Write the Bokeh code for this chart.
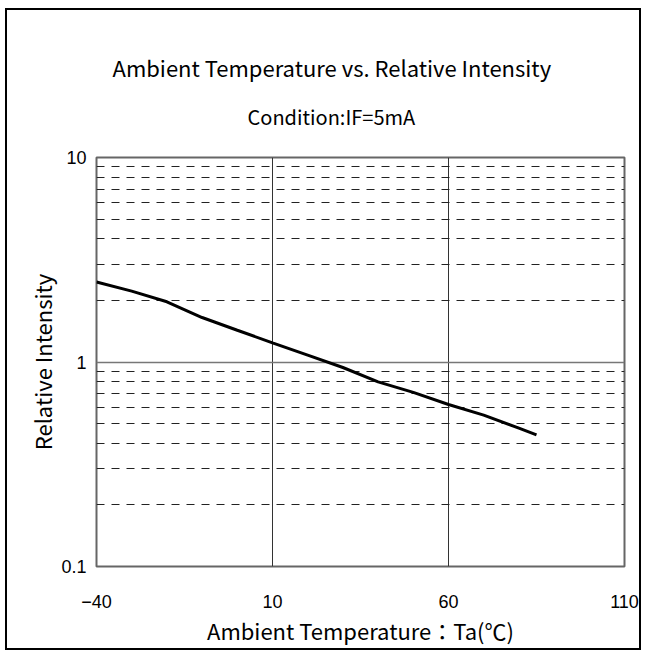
from bokeh.plotting import figure
from bokeh.models import FixedTicker, Range1d, Title
from bokeh.embed import file_html
from bokeh.resources import INLINE

# ---- data ----
temp = [-40, -30, -20, -10, 0, 10, 20, 30, 40, 50, 60, 70, 80, 85]
rel_intensity = [2.46, 2.22, 1.97, 1.65, 1.43, 1.24, 1.08, 0.94, 0.80, 0.71, 0.62, 0.55, 0.475, 0.44]

x_ticks = [-40, 10, 60, 110]
x_tick_labels = ["\u221240", "10", "60", "110"]
y_ticks = [0.1, 1, 10]
y_tick_labels = ["0.1", "1", "10"]
y_minor = [0.2, 0.3, 0.4, 0.5, 0.6, 0.7, 0.8, 0.9, 2, 3, 4, 5, 6, 7, 8, 9]

title_text = "Ambient Temperature vs. Relative Intensity"
subtitle_text = "Condition:IF=5mA"
x_title = "Ambient Temperature\uff1aTa(\u2103)"
y_title = "Relative Intensity"

TFONT = "Noto Sans CJK JP"
NFONT = "Liberation Sans"

p = figure(
    frame_width=528, frame_height=409,
    min_border_left=89, min_border_right=15, min_border_top=147, min_border_bottom=81,
    y_axis_type="log",
    x_range=Range1d(-40, 110), y_range=Range1d(0.1, 10),
    output_backend="svg", toolbar_location=None,
    background_fill_color="white", border_fill_color="white",
    styles={"border": "2px solid black", "margin-left": "5px", "margin-top": "8px"},
)

p.outline_line_color = "#666666"
p.outline_line_width = 2

# grids
p.xgrid.ticker = FixedTicker(ticks=[10, 60])
p.xgrid.grid_line_color = "#333333"
p.xgrid.grid_line_width = 1
p.ygrid.ticker = FixedTicker(ticks=[1], minor_ticks=y_minor)
p.ygrid.grid_line_color = "#777777"
p.ygrid.grid_line_width = 1.5
p.ygrid.minor_grid_line_color = "#222222"
p.ygrid.minor_grid_line_width = 1
p.ygrid.minor_grid_line_dash = "8 7"

# axes
p.xaxis.ticker = FixedTicker(ticks=x_ticks)
p.xaxis.major_label_overrides = dict(zip(x_ticks, x_tick_labels))
p.yaxis.ticker = FixedTicker(ticks=y_ticks)
p.yaxis.major_label_overrides = dict(zip(y_ticks, y_tick_labels))
for ax in (p.xaxis, p.yaxis):
    ax.axis_line_color = None
    ax.major_tick_line_color = None
    ax.minor_tick_line_color = None
    ax.major_tick_out = 0
    ax.minor_tick_out = 0
    ax.major_label_text_font = NFONT
    ax.major_label_text_font_size = "18px"
    ax.major_label_text_color = "black"
    ax.axis_label_text_font = TFONT
    ax.axis_label_text_font_size = "22px"
    ax.axis_label_text_font_style = "normal"
    ax.axis_label_text_color = "black"

p.xaxis.axis_label = x_title
p.yaxis.axis_label = y_title
p.xaxis.major_label_standoff = 28
p.xaxis.axis_label_standoff = 3
p.yaxis.major_label_standoff = 10
p.yaxis.axis_label_standoff = 0

# curve
p.line(temp, rel_intensity, line_color="black", line_width=3)

# titles: subtitle nearest the frame, main title above it
p.add_layout(Title(text=subtitle_text, text_font=TFONT, text_font_size="20px",
                   text_font_style="normal", align="left", offset=151, standoff=54,
                   text_color="black"), "above")
p.add_layout(Title(text=title_text, text_font=TFONT, text_font_size="22px",
                   text_font_style="normal", align="left", offset=16, standoff=-20,
                   text_color="black"), "above")

open("out.html", "w").write(file_html(p, INLINE))
